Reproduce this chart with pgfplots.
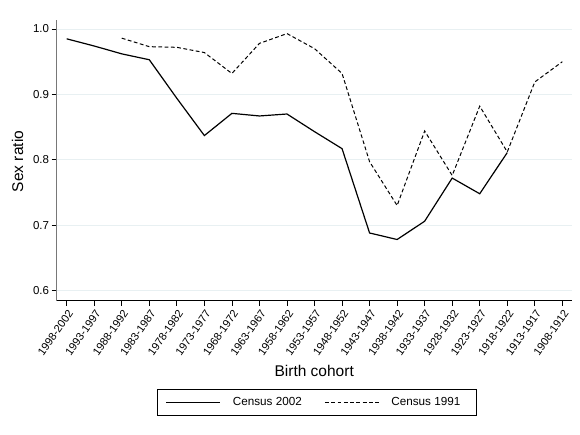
\documentclass[border=0pt]{standalone}
\usepackage{pgfplots}
\pgfplotsset{compat=1.18}
\usepackage{fontspec}
\setmainfont{Liberation Sans}
\definecolor{gridc}{RGB}{232,240,242}
\definecolor{spine}{RGB}{120,120,120}
\begin{document}
\begin{tikzpicture}
\useasboundingbox (-56.7pt,-133.3pt) rectangle (523.3pt,300.7pt);
\begin{axis}[
  at={(0pt,0pt)}, anchor=south west,
  scale only axis,
  width=515pt, height=280.7pt,
  xmin=-0.363, xmax=18.34,
  ymin=0.5844, ymax=1.0138,
  xtick={0,...,18},
  xticklabels={1998-2002,1993-1997,1988-1992,1983-1987,1978-1982,1973-1977,1968-1972,1963-1967,1958-1962,1953-1957,1948-1952,1943-1947,1938-1942,1933-1937,1928-1932,1923-1927,1918-1922,1913-1917,1908-1912},
  ytick={0.6,0.7,0.8,0.9,1.0},
  axis lines*=left,
  axis line style={-},
  x axis line style={black, line width=0.9pt},
  y axis line style={spine, line width=1.4pt},
  tick align=outside,
  major tick length=5pt,
  every tick/.style={black, line width=0.8pt},
  ymajorgrids,
  major grid style={gridc, line width=1pt},
  /pgf/number format/assume math mode=true,
  yticklabel style={font=\fontsize{11.5}{13}\selectfont, inner sep=2.5pt, /pgf/number format/fixed, /pgf/number format/fixed zerofill, /pgf/number format/precision=1},
  xticklabel style={font=\fontsize{11}{13}\selectfont, rotate=55, anchor=north east, inner sep=2pt},
  xlabel={Birth cohort},
  ylabel={Sex ratio},
  every axis x label/.style={at={(axis description cs:0.5,-0.2505)}, anchor=center, font=\fontsize{15.5}{18}\selectfont},
  every axis y label/.style={at={(axis description cs:-0.0761,0.496)}, rotate=90, anchor=center, font=\fontsize{15.5}{18}\selectfont},
  legend columns=2,
  legend style={at={(0.505,-0.3627)}, anchor=center, draw=black, line width=0.8pt,
    font=\fontsize{11.7}{14}\selectfont, inner xsep=8.4pt, inner ysep=8.5pt,
    nodes={inner sep=0pt},
    /tikz/every odd column/.append style={column sep=12pt},
    /tikz/every even column/.append style={column sep=22.6pt}},
  legend image code/.code={\draw[#1] (0pt,0pt) -- (54pt,0pt);},
  legend cell align=left,
]
\addplot[black, line width=1.2pt] coordinates {
  (0,0.985) (1,0.974) (2,0.962) (3,0.953) (4,0.894) (5,0.837) (6,0.871)
  (7,0.867) (8,0.870) (9,0.843) (10,0.817) (11,0.688) (12,0.678)
  (13,0.706) (14,0.772) (15,0.748) (16,0.811)
};
\addlegendentry{Census 2002}
\addplot[black, line width=1.0pt, dash pattern=on 3.8pt off 2.5pt] coordinates {
  (2,0.986) (3,0.973) (4,0.972) (5,0.964) (6,0.932) (7,0.978) (8,0.993)
  (9,0.970) (10,0.932) (11,0.797) (12,0.730) (13,0.844) (14,0.776)
  (15,0.882) (16,0.812) (17,0.919) (18,0.950)
};
\addlegendentry{Census 1991\hspace*{7.5pt}}
\end{axis}
\end{tikzpicture}
\end{document}
